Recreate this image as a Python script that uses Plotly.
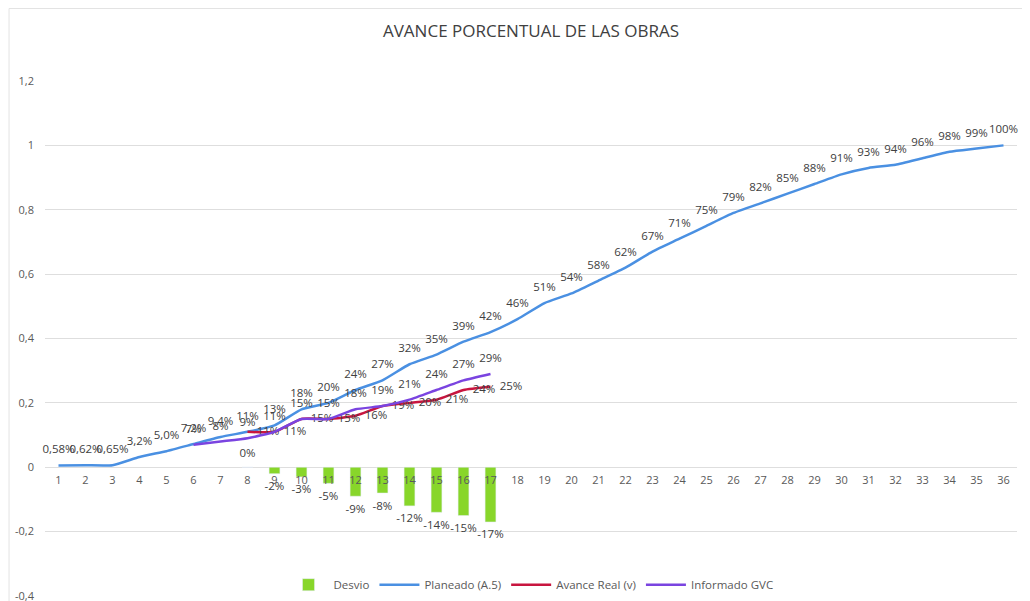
import plotly.graph_objects as go

periods = list(range(1, 37))
planeado = [0.0058, 0.0062, 0.0065, 0.032, 0.050, 0.072, 0.094, 0.11, 0.13, 0.18,
            0.20, 0.24, 0.27, 0.32, 0.35, 0.39, 0.42, 0.46, 0.51, 0.54,
            0.58, 0.62, 0.67, 0.71, 0.75, 0.79, 0.82, 0.85, 0.88, 0.91,
            0.93, 0.94, 0.96, 0.98, 0.99, 1.00]
real_x = list(range(8, 18))
avance_real = [0.11, 0.11, 0.15, 0.15, 0.16, 0.19, 0.20, 0.21, 0.24, 0.25]
gvc_x = list(range(6, 18))
informado_gvc = [0.07, 0.08, 0.09, 0.11, 0.15, 0.15, 0.18, 0.19, 0.21, 0.24, 0.27, 0.29]
desvio_x = list(range(8, 18))
desvio = [0.0, -0.02, -0.03, -0.05, -0.09, -0.08, -0.12, -0.14, -0.15, -0.17]

y_ticks = [-0.4, -0.2, 0, 0.2, 0.4, 0.6, 0.8, 1.0, 1.2]
y_ticktext = ["-0,4", "-0,2", "0", "0,2", "0,4", "0,6", "0,8", "1", "1,2"]


def pct_sig(v):
    if abs(v) < 0.01:
        s = f"{v*100:.2f}"
    elif abs(v) < 0.1:
        s = f"{v*100:.1f}"
    else:
        s = f"{v*100:.0f}"
    return s.replace(".", ",") + "%"


def pct_int(v):
    return f"{round(v*100):.0f}%"


LABEL_FONT = dict(family="Open Sans", size=11.5, color="#404040")
BLUE = "#4a90e2"
RED = "#c8153f"
PURPLE = "#7a44e0"
GREEN = "#88d62a"
HIDDEN_MARKER = dict(size=13, color="rgba(0,0,0,0)", opacity=0)

# page has an 8px body margin: figure coordinates = page coordinates - 8
L, R, T, B = 36.5, 20.5, 73, 13
PW = 1030 - L - R
PH = 601 - T - B

fig = go.Figure()

fig.add_trace(go.Bar(
    x=desvio_x, y=desvio, name="Desvio", marker_color=GREEN, width=0.4,
))
fig.add_trace(go.Scatter(
    x=periods, y=planeado, name="Planeado (A.5)", mode="lines+markers+text",
    line=dict(color=BLUE, width=2.5, shape="spline", smoothing=0.5),
    marker=HIDDEN_MARKER,
    text=[pct_sig(v) for v in planeado], textposition="top center",
    textfont=LABEL_FONT, cliponaxis=False,
))
fig.add_trace(go.Scatter(
    x=real_x, y=avance_real, name="Avance Real (v)", mode="lines+markers+text",
    line=dict(color=RED, width=2.5, shape="spline", smoothing=0.5),
    marker=HIDDEN_MARKER,
    text=[pct_int(v) for v in avance_real], textposition="middle right",
    textfont=LABEL_FONT, cliponaxis=False,
))
fig.add_trace(go.Scatter(
    x=gvc_x, y=informado_gvc, name="Informado GVC", mode="lines+markers+text",
    line=dict(color=PURPLE, width=2.5, shape="spline", smoothing=0.5),
    marker=HIDDEN_MARKER,
    text=[pct_int(v) for v in informado_gvc], textposition="top center",
    textfont=LABEL_FONT, cliponaxis=False,
))
fig.add_trace(go.Scatter(
    x=desvio_x, y=desvio, mode="markers+text", showlegend=False, hoverinfo="skip",
    marker=dict(size=11, color="rgba(0,0,0,0)", opacity=0),
    text=[pct_int(v) for v in desvio],
    textposition=["top center" if v >= 0 else "bottom center" for v in desvio],
    textfont=LABEL_FONT, cliponaxis=False,
))

fig.update_layout(
    width=1030, height=601,
    margin=dict(l=L, r=R, t=T, b=B, autoexpand=False),
    paper_bgcolor="white", plot_bgcolor="white",
    font=dict(family="Open Sans", color="#595959"),
    title=dict(text="AVANCE PORCENTUAL DE LAS OBRAS", x=0.5, xref="paper",
               y=1 - 23 / 601, yref="container", yanchor="middle", xanchor="center",
               font=dict(family="Open Sans", size=17, color="#404040")),
    showlegend=True,
    legend=dict(orientation="h", x=0.5, xanchor="center", y=0.022, yanchor="middle",
                font=dict(family="Open Sans", size=11.5, color="#595959"),
                bgcolor="rgba(255,255,255,0)", itemwidth=40),
    bargap=0.6,
)
fig.update_xaxes(
    range=[0.5, 36.5], tickmode="array", tickvals=periods,
    ticktext=[str(p) for p in periods], showgrid=False, zeroline=False,
    showline=False, anchor="free", position=0.25, automargin=False,
    tickfont=dict(family="Open Sans", size=11, color="#595959"), ticks="",
    ticklabelstandoff=5,
)
fig.update_yaxes(
    range=[-0.4, 1.2], tickmode="array", tickvals=y_ticks, ticktext=y_ticktext,
    showgrid=True, gridcolor="#dedede", gridwidth=1, zeroline=False, showline=False,
    tickfont=dict(family="Open Sans", size=11, color="#595959"), ticks="",
    ticklabelstandoff=10, automargin=False,
)
fig.add_shape(type="rect", xref="paper", yref="paper",
              x0=(0.5 - L) / PW, x1=(1040 - L) / PW,
              y0=-(B + 10) / PH, y1=(PH + T - 0.5) / PH,
              line=dict(color="#e3e3e3", width=1), fillcolor="rgba(0,0,0,0)", layer="below")

fig.write_html("out.html")
